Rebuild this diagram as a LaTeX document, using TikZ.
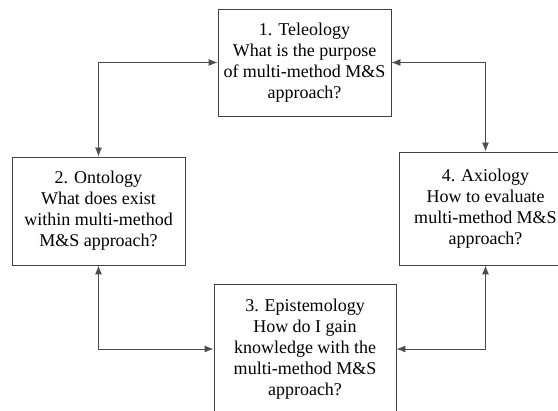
\documentclass[tikz,border=0pt]{standalone}
\usepackage{fontspec}
\setmainfont{Liberation Serif}
\usepackage{tikz}
\usetikzlibrary{shapes,arrows,arrows.meta,positioning}

\begin{document}
\begin{tikzpicture}[
    x=1pt, y=1pt,
    box/.style={rectangle, draw=black!75, line width=0.9pt, align=center, inner sep=0pt,
        font=\fontsize{18}{21}\selectfont},
    arrow/.style={<->, >={Latex[length=9pt,width=7pt]}, line width=0.9pt, draw=black!70}
]
    \useasboundingbox (0,0) rectangle (558,-411);

    \node[box, minimum width=173, minimum height=107] (teleo) at (304.5,-62.5)
        {1. Teleology\\What is the purpose\\of multi-method M\&S\\approach?};
    \node[box, minimum width=173, minimum height=108] (onto) at (98.5,-211)
        {2. Ontology\\What does exist\\within multi-method\\M\&S approach?};
    \node[box, minimum width=182, minimum height=130] (episte) at (305,-349)
        {3. Epistemology\\How do I gain\\knowledge with the\\multi-method M\&S\\approach?};
    \node[box, minimum width=173, minimum height=113] (axio) at (485.5,-208.5)
        {4. Axiology\\How to evaluate\\multi-method M\&S\\approach?};

    \draw[arrow] (onto.north) |- (teleo.west);
    \draw[arrow] (axio.north) |- (teleo.east);
    \draw[arrow] (onto.south) |- (episte.west);
    \draw[arrow] (axio.south) |- (episte.east);
\end{tikzpicture}
\end{document}
